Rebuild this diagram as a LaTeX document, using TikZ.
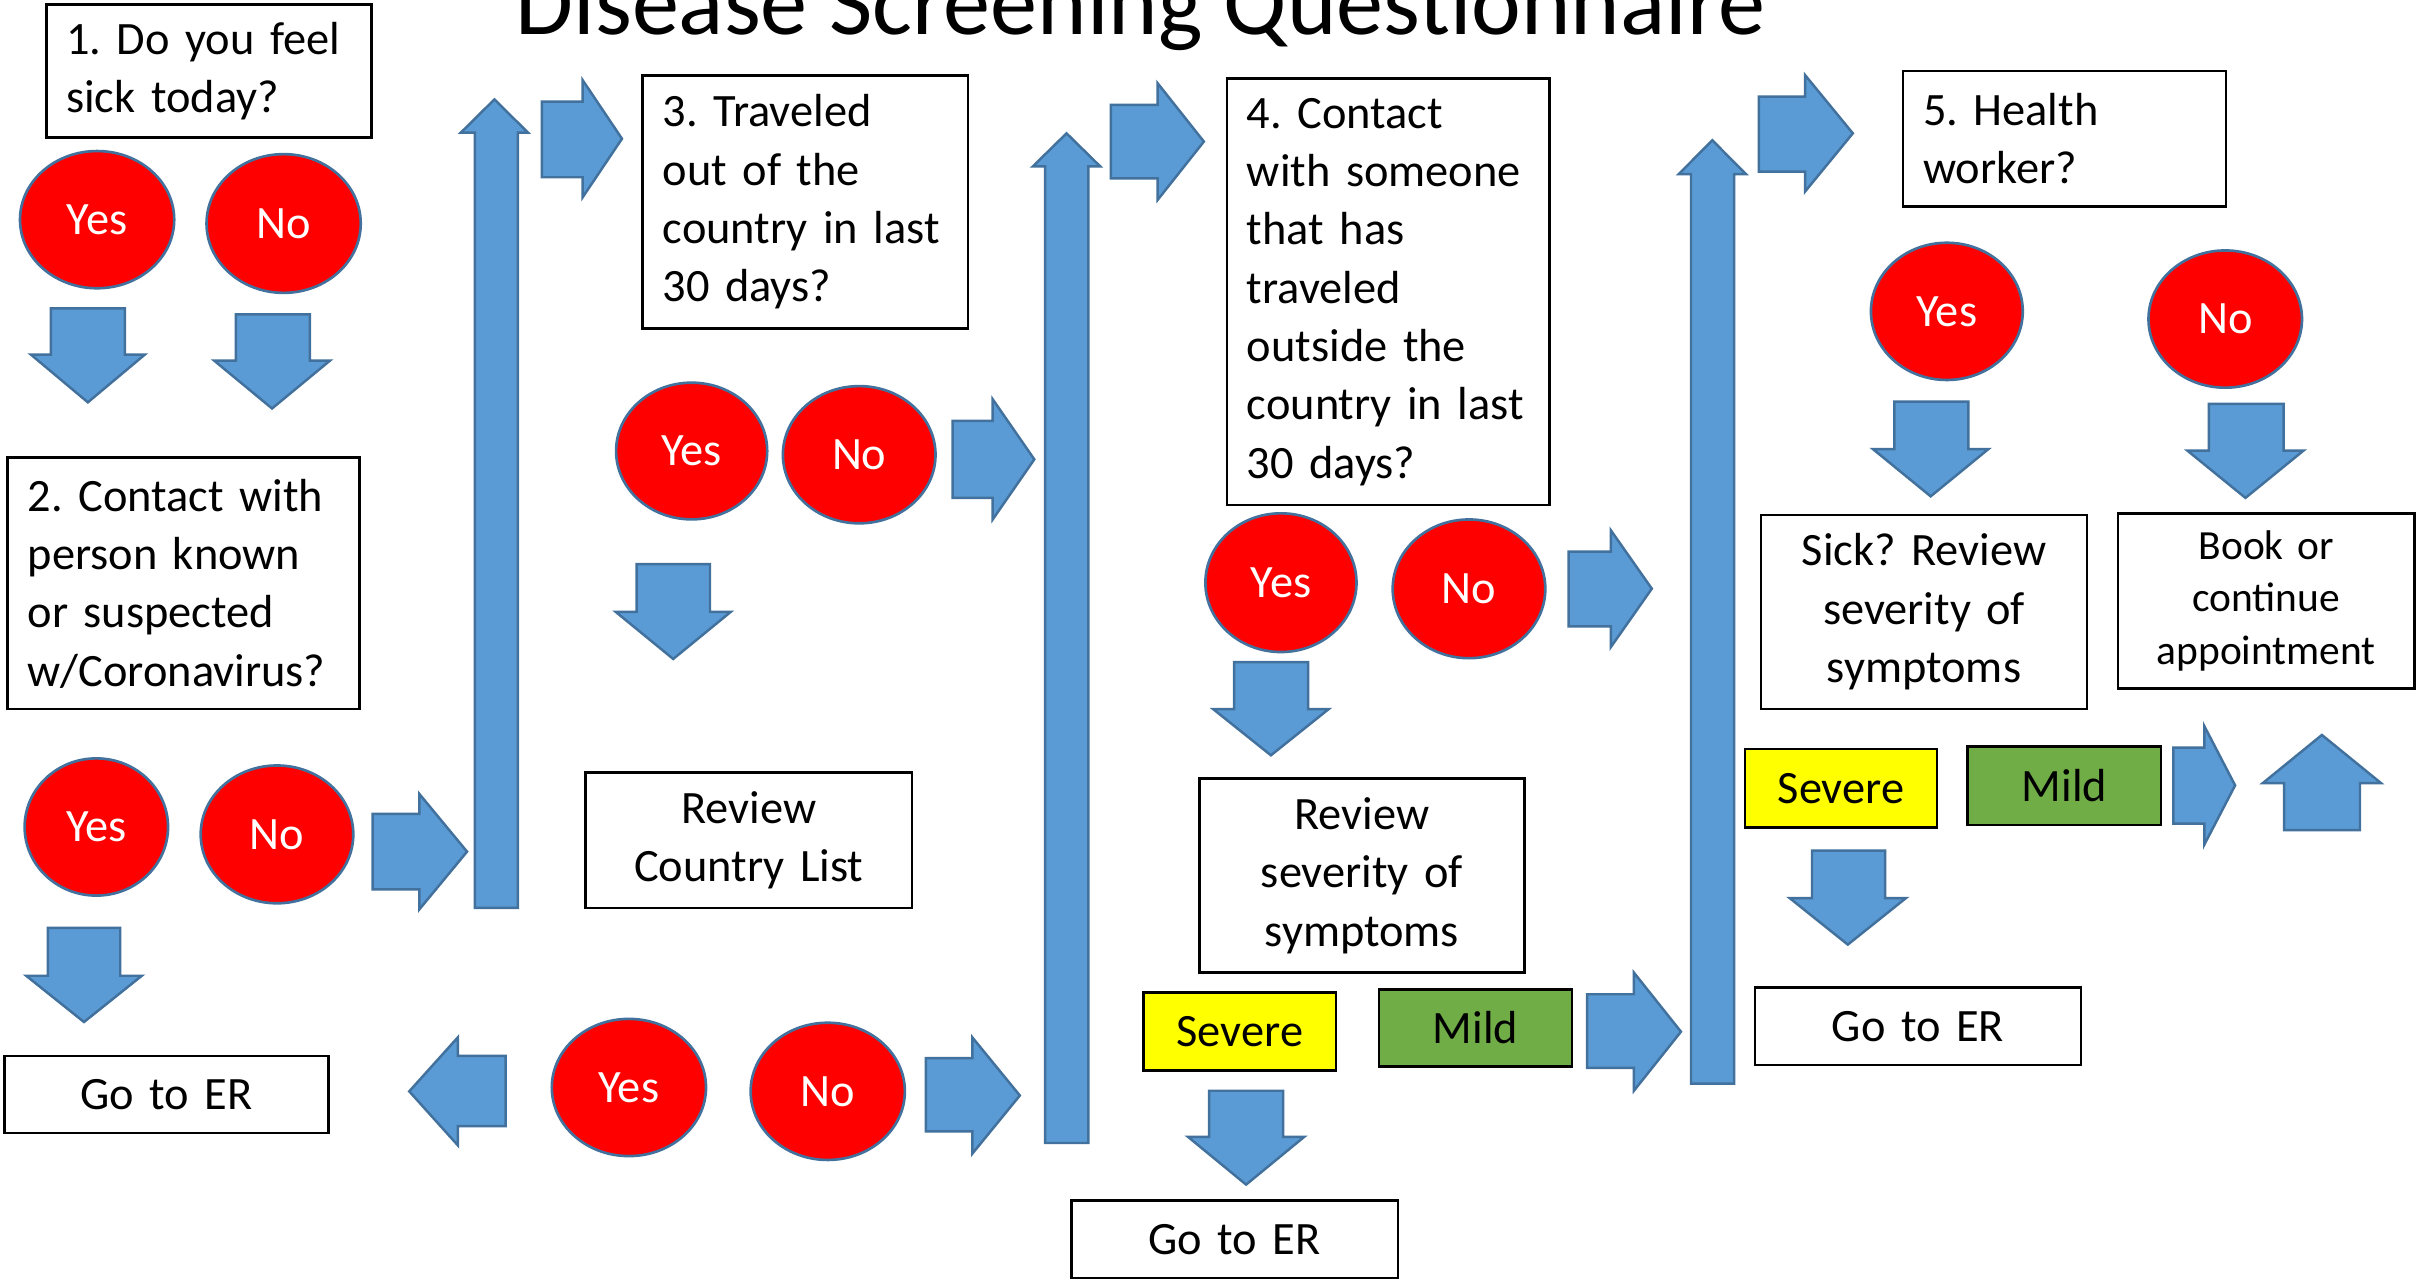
\documentclass[tikz,border=0pt]{standalone}
\usepackage{fontspec}
\setmainfont{Carlito}
\usetikzlibrary{shapes.geometric}
\definecolor{arrfill}{HTML}{5B9BD5}
\definecolor{arrline}{HTML}{41719C}
\definecolor{mildgreen}{HTML}{70AD47}
\definecolor{sevyellow}{HTML}{FFFF00}
\frenchspacing
\newcommand\BVert[7]{\draw[blockarrow] (#1,#5) -- (#2,#5) -- (#2,#6) -- (#4,#6) -- ({(#3+#4)/2},#7) -- (#3,#6) -- (#1,#6) -- cycle;}
\newcommand\BHorz[7]{\draw[blockarrow] (#1,#4) -- (#2,#4) -- (#2,#6) -- (#3,{(#6+#7)/2}) -- (#2,#7) -- (#2,#5) -- (#1,#5) -- cycle;}
\tikzset{
  blockarrow/.style={fill=arrfill, draw=arrline, line width=0.7pt, line join=miter},
  qbox/.style={draw=black, line width=0.75pt, fill=white, inner xsep=2mm, inner ysep=0pt,
    font=\fontsize{13.2}{16.6}\selectfont\frenchspacing, align=left},
  cbox/.style={qbox, align=center},
  circ/.style={ellipse, draw=arrline, line width=0.75pt, fill=red, inner sep=0pt,
    text=white, font=\fontsize{13.2}{16}\selectfont},
  sev/.style={draw=black, line width=0.75pt, fill=sevyellow, inner sep=0pt,
    font=\fontsize{13.2}{16}\selectfont},
  mild/.style={draw=black, line width=0.75pt, fill=mildgreen, inner sep=0pt,
    font=\fontsize{13.2}{16}\selectfont},
}
\begin{document}
\begin{tikzpicture}[x=0.15415mm, y=-0.15415mm]
\useasboundingbox (0,0) rectangle (1568,830);
\clip (0,0) rectangle (1568,830);
\fill[white] (0,0) rectangle (1568,830);

% title
\node[anchor=base, inner sep=0pt, font=\fontsize{26.8}{30}\selectfont] (title) at (740,22.7) {Disease Screening Questionnaire};

% question boxes
\node[qbox, text width=28.53mm, minimum height=13.26mm] (q1) at (135.5,46) {1. Do you feel\\sick today?};
\node[qbox, text width=31.15mm, minimum height=25.13mm] (q2) at (119,378.5) {2. Contact with\\person known\\or suspected\\w/Coronavirus?};
\node[qbox, text width=28.53mm, minimum height=25.28mm] (q3) at (522.5,131) {3. Traveled\\out of the\\country in last\\30 days?};
\node[qbox, text width=28.22mm, minimum height=42.64mm] (q4) at (900.5,189.3) {4. Contact\\with someone\\that has\\traveled\\outside the\\country in last\\30 days?};
\node[qbox, text width=28.28mm, minimum height=13.57mm] (q5) at (1339.3,90) {5. Health\\worker?};

% other boxes
\node[cbox, text width=28.62mm, minimum height=13.57mm] (rcl) at (485.8,545) {Review\\Country List};
\node[cbox, text width=28.37mm, minimum height=7.71mm] (er1) at (108,710) {Go to ER};
\node[cbox, text width=28.53mm, minimum height=19.42mm] (rs1) at (883.5,568) {Review\\severity of\\symptoms};
\node[cbox, text width=28.68mm, minimum height=7.71mm] (er2) at (801,804) {Go to ER};
\node[cbox, text width=28.62mm, minimum height=19.42mm] (rs2) at (1248.2,397) {Sick? Review\\severity of\\symptoms};
\node[cbox, text width=25.66mm, minimum height=17.51mm, font=\fontsize{11.8}{14.9}\selectfont] (book) at (1470.2,389.8) {Book or\\continue\\appointment};
\node[cbox, text width=28.60mm, minimum height=7.77mm] (er3) at (1244.25,665.8) {Go to ER};

% severity tags
\node[sev, minimum width=19.22mm, minimum height=7.80mm] (sev1) at (804.35,669.3) {Severe};
\node[mild, minimum width=19.30mm, minimum height=7.74mm] (mild1) at (957.2,666.9) {Mild};
\node[sev, minimum width=19.21mm, minimum height=7.86mm] (sev2) at (1194.3,511.5) {Severe};
\node[mild, minimum width=19.35mm, minimum height=7.85mm] (mild2) at (1339.25,509.75) {Mild};

% yes / no ellipses
\node[circ, minimum width=15.42mm, minimum height=13.72mm] (y1) at (63,142.5) {Yes};
\node[circ, minimum width=15.42mm, minimum height=13.87mm] (n1) at (184,145) {No};
\node[circ, minimum width=14.34mm, minimum height=13.72mm] (y2) at (62.5,536.5) {Yes};
\node[circ, minimum width=15.26mm, minimum height=13.78mm] (n2) at (179.7,541.3) {No};
\node[circ, minimum width=15.11mm, minimum height=13.67mm] (y3) at (448.7,292.6) {Yes};
\node[circ, minimum width=15.26mm, minimum height=13.72mm] (n3) at (557.4,295) {No};
\node[circ, minimum width=15.42mm, minimum height=13.72mm] (yb) at (408,705.5) {Yes};
\node[circ, minimum width=15.42mm, minimum height=13.72mm] (nb) at (537,708) {No};
\node[circ, minimum width=15.11mm, minimum height=13.87mm] (y4) at (831,378) {Yes};
\node[circ, minimum width=15.26mm, minimum height=13.87mm] (n4) at (953,382) {No};
\node[circ, minimum width=15.18mm, minimum height=13.72mm] (y5) at (1263,202) {Yes};
\node[circ, minimum width=15.35mm, minimum height=13.72mm] (n5) at (1443.6,207) {No};

% down arrows
\BVert{33}{81}{20}{94}{200}{230}{261}
\BVert{153}{201}{139}{214}{204}{234}{265}
\BVert{31}{78}{17}{92}{602}{633}{663}
\BVert{413}{460.6}{399.5}{474}{366}{397}{427.5}
\BVert{800.6}{848.6}{787}{862}{429.6}{460}{490}
\BVert{784.4}{832.4}{770.8}{846}{707.6}{737.6}{768.5}
\BVert{1229}{1277}{1215}{1290}{260.6}{291.3}{322}
\BVert{1433}{1481.4}{1419}{1494.4}{262}{292.3}{323}
\BVert{1175.5}{1222.9}{1161}{1236.5}{551.9}{582.6}{612.8}

% up arrows
\BVert{308}{336}{299}{342.5}{589}{86}{64.5}
\BVert{678}{706}{670}{713.8}{741.5}{108}{86.5}
\BVert{1097}{1125}{1089}{1132.7}{703}{113}{91}
\BVert{1481.8}{1531}{1468}{1544.6}{538.5}{508}{476.8}

% right arrows
\BHorz{241.7}{272}{303}{528}{577}{515}{590}
\BHorz{351.5}{378}{403.5}{66}{115}{52}{128}
\BHorz{618}{644}{671}{273}{323}{259}{337}
\BHorz{600.6}{630.8}{661.6}{686.5}{734}{673}{748.4}
\BHorz{720.7}{751}{781}{68}{115.7}{54}{129.7}
\BHorz{1017.6}{1045}{1071.6}{357.8}{406.4}{344}{419.8}
\BHorz{1029.6}{1060}{1090.5}{645}{692.8}{631}{707.6}
\BHorz{1141}{1171}{1202}{62.7}{111.4}{48.7}{124.3}
\BHorz{1410}{1430}{1450}{485}{534.3}{471}{548}

% left arrow
\BHorz{328}{297}{265.5}{685}{730.5}{673}{743}
\end{tikzpicture}
\end{document}
